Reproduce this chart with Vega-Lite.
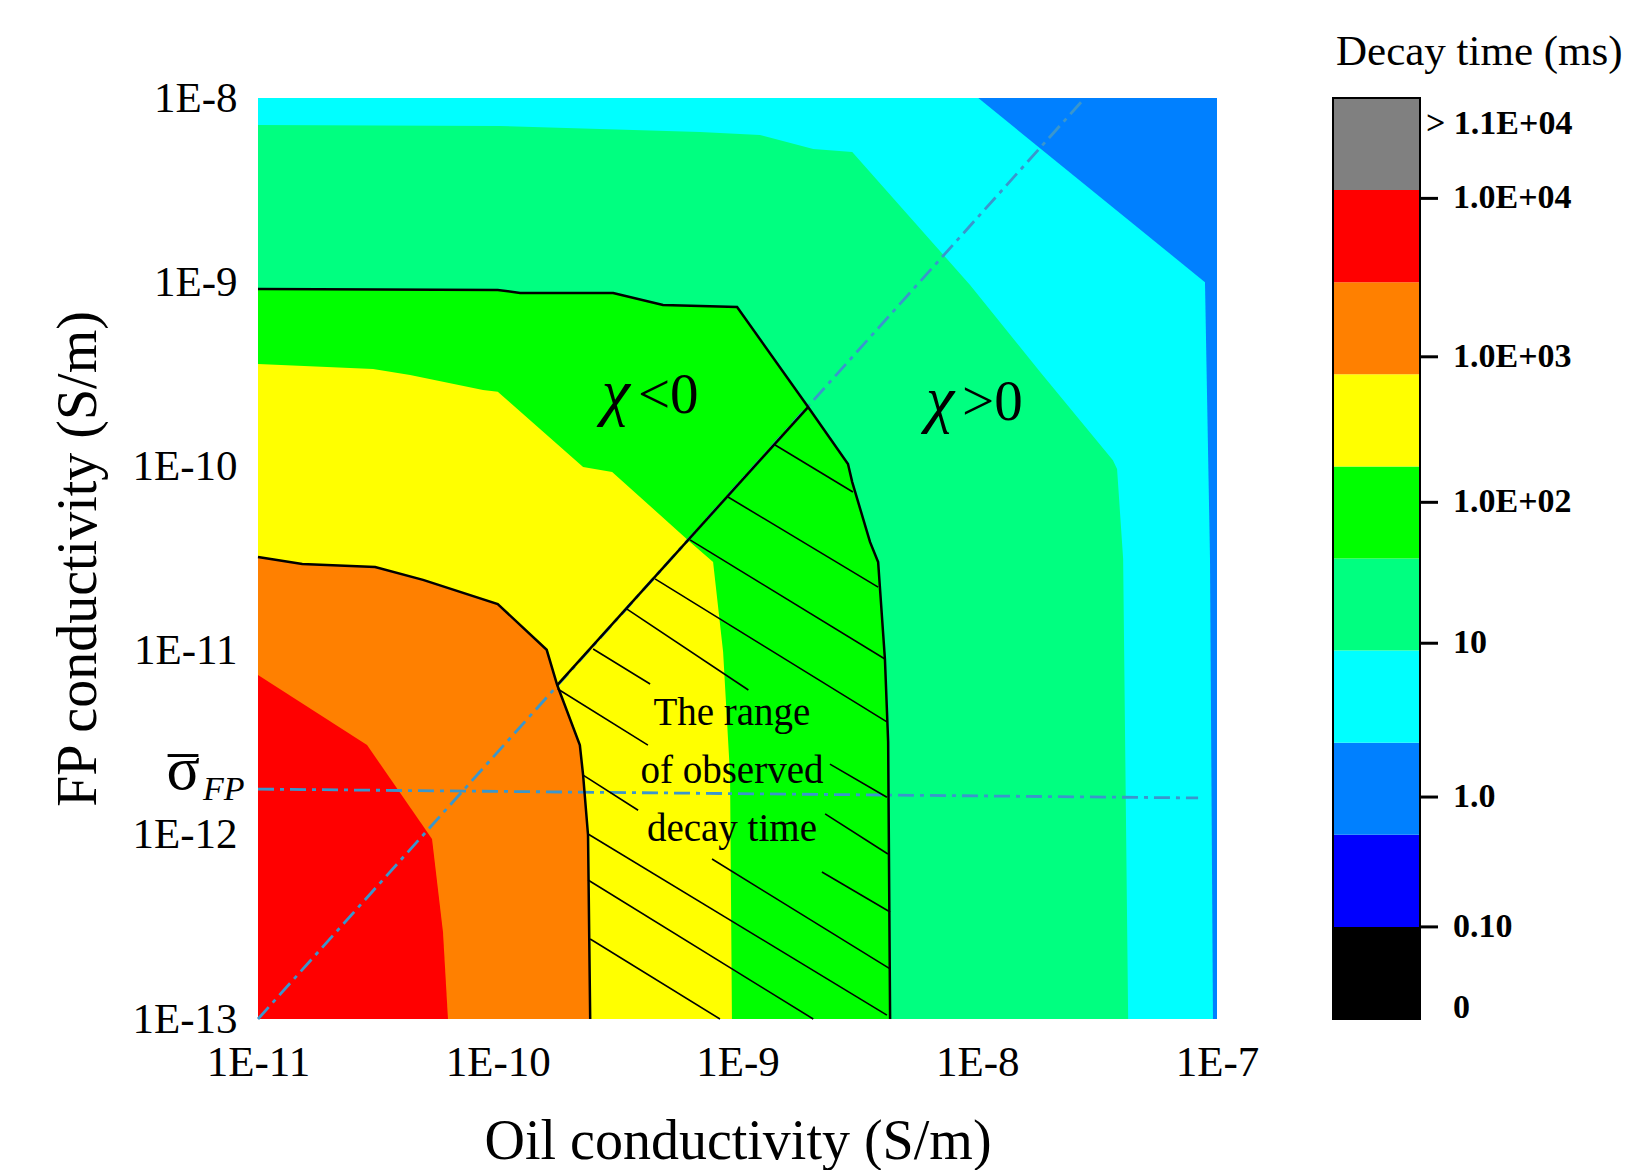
{
  "$schema": "https://vega.github.io/schema/vega-lite/v6.json",
  "background": "white",
  "padding": {"left": 50, "top": 31, "right": 5, "bottom": 5},
  "config": {"font": "Liberation Serif", "view": {"stroke": null}, "text": {"font": "Liberation Serif", "color": "black"}},
  "bounds": "flush",
  "spacing": 116,
  "datasets": {
    "poly": [
      {"level": "L2", "v": 0, "oil": 1e-11, "fp": 1e-13},
      {"level": "L2", "v": 1, "oil": 1e-11, "fp": 1e-8},
      {"level": "L2", "v": 2, "oil": 1e-7, "fp": 1e-8},
      {"level": "L2", "v": 3, "oil": 1e-7, "fp": 1e-13},

      {"level": "L3", "v": 0, "oil": 1e-11, "fp": 1e-13},
      {"level": "L3", "v": 1, "oil": 1e-11, "fp": 1e-8},
      {"level": "L3", "v": 2, "oil": 1.01e-8, "fp": 1e-8},
      {"level": "L3", "v": 3, "oil": 8.91e-8, "fp": 1.0e-9},
      {"level": "L3", "v": 4, "oil": 9.35e-8, "fp": 3.14e-11},
      {"level": "L3", "v": 5, "oil": 9.62e-8, "fp": 1e-13},

      {"level": "L4", "v": 0, "oil": 1e-11, "fp": 1e-13},
      {"level": "L4", "v": 1, "oil": 1e-11, "fp": 7.13e-9},
      {"level": "L4", "v": 2, "oil": 1.02e-10, "fp": 7.05e-9},
      {"level": "L4", "v": 3, "oil": 6.98e-10, "fp": 6.53e-9},
      {"level": "L4", "v": 4, "oil": 1.24e-9, "fp": 6.30e-9},
      {"level": "L4", "v": 5, "oil": 2.07e-9, "fp": 5.28e-9},
      {"level": "L4", "v": 6, "oil": 3.01e-9, "fp": 5.09e-9},
      {"level": "L4", "v": 7, "oil": 9.33e-9, "fp": 9.66e-10},
      {"level": "L4", "v": 8, "oil": 1.83e-8, "fp": 3.25e-10},
      {"level": "L4", "v": 9, "oil": 3.68e-8, "fp": 1.08e-10},
      {"level": "L4", "v": 10, "oil": 3.83e-8, "fp": 9.68e-11},
      {"level": "L4", "v": 11, "oil": 4.06e-8, "fp": 3.14e-11},
      {"level": "L4", "v": 12, "oil": 4.26e-8, "fp": 1e-13},

      {"level": "L5", "v": 0, "oil": 1e-11, "fp": 1e-13},
      {"level": "L5", "v": 1, "oil": 1e-11, "fp": 9.18e-10},
      {"level": "L5", "v": 2, "oil": 1.0e-10, "fp": 9.08e-10},
      {"level": "L5", "v": 3, "oil": 1.24e-10, "fp": 8.74e-10},
      {"level": "L5", "v": 4, "oil": 3.03e-10, "fp": 8.74e-10},
      {"level": "L5", "v": 5, "oil": 4.89e-10, "fp": 7.52e-10},
      {"level": "L5", "v": 6, "oil": 9.96e-10, "fp": 7.33e-10},
      {"level": "L5", "v": 7, "oil": 1.97e-9, "fp": 2.10e-10},
      {"level": "L5", "v": 8, "oil": 2.89e-9, "fp": 1.03e-10},
      {"level": "L5", "v": 9, "oil": 3.01e-9, "fp": 8.22e-11},
      {"level": "L5", "v": 10, "oil": 3.57e-9, "fp": 3.89e-11},
      {"level": "L5", "v": 11, "oil": 3.86e-9, "fp": 3.03e-11},
      {"level": "L5", "v": 12, "oil": 4.12e-9, "fp": 9.0e-12},
      {"level": "L5", "v": 13, "oil": 4.25e-9, "fp": 3.19e-12},
      {"level": "L5", "v": 14, "oil": 4.33e-9, "fp": 1e-13},

      {"level": "L6", "v": 0, "oil": 1e-11, "fp": 1e-13},
      {"level": "L6", "v": 1, "oil": 1e-11, "fp": 3.60e-10},
      {"level": "L6", "v": 2, "oil": 3.02e-11, "fp": 3.38e-10},
      {"level": "L6", "v": 3, "oil": 4.31e-11, "fp": 3.13e-10},
      {"level": "L6", "v": 4, "oil": 8.68e-11, "fp": 2.60e-10},
      {"level": "L6", "v": 5, "oil": 1.0e-10, "fp": 2.54e-10},
      {"level": "L6", "v": 6, "oil": 2.27e-10, "fp": 9.93e-11},
      {"level": "L6", "v": 7, "oil": 3.00e-10, "fp": 9.33e-11},
      {"level": "L6", "v": 8, "oil": 6.34e-10, "fp": 3.89e-11},
      {"level": "L6", "v": 9, "oil": 7.91e-10, "fp": 3.03e-11},
      {"level": "L6", "v": 10, "oil": 8.71e-10, "fp": 9.82e-12},
      {"level": "L6", "v": 11, "oil": 9.31e-10, "fp": 2.11e-12},
      {"level": "L6", "v": 12, "oil": 9.48e-10, "fp": 1e-13},

      {"level": "L7", "v": 0, "oil": 1e-11, "fp": 1e-13},
      {"level": "L7", "v": 1, "oil": 1e-11, "fp": 3.22e-11},
      {"level": "L7", "v": 2, "oil": 1.53e-11, "fp": 2.95e-11},
      {"level": "L7", "v": 3, "oil": 3.08e-11, "fp": 2.84e-11},
      {"level": "L7", "v": 4, "oil": 4.88e-11, "fp": 2.42e-11},
      {"level": "L7", "v": 5, "oil": 1.0e-10, "fp": 1.79e-11},
      {"level": "L7", "v": 6, "oil": 1.60e-10, "fp": 1.01e-11},
      {"level": "L7", "v": 7, "oil": 1.77e-10, "fp": 6.50e-12},
      {"level": "L7", "v": 8, "oil": 2.20e-10, "fp": 3.07e-12},
      {"level": "L7", "v": 9, "oil": 2.27e-10, "fp": 2.11e-12},
      {"level": "L7", "v": 10, "oil": 2.38e-10, "fp": 9.98e-13},
      {"level": "L7", "v": 11, "oil": 2.43e-10, "fp": 1e-13},

      {"level": "L8", "v": 0, "oil": 1e-11, "fp": 1e-13},
      {"level": "L8", "v": 1, "oil": 1e-11, "fp": 7.37e-12},
      {"level": "L8", "v": 2, "oil": 2.85e-11, "fp": 3.07e-12},
      {"level": "L8", "v": 3, "oil": 5.07e-11, "fp": 1.04e-12},
      {"level": "L8", "v": 4, "oil": 5.32e-11, "fp": 9.49e-13},
      {"level": "L8", "v": 5, "oil": 5.91e-11, "fp": 2.97e-13},
      {"level": "L8", "v": 6, "oil": 6.20e-11, "fp": 1e-13}
    ],
    "segments": [
      {"kind": "hatch", "oil": 1.43e-9, "fp": 1.31e-10, "oil2": 3.03e-9, "fp2": 7.26e-11},
      {"kind": "hatch", "oil": 9.13e-10, "fp": 6.82e-11, "oil2": 3.86e-9, "fp2": 2.21e-11},
      {"kind": "hatch", "oil": 6.34e-10, "fp": 3.99e-11, "oil2": 4.12e-9, "fp2": 9.00e-12},
      {"kind": "hatch", "oil": 4.53e-10, "fp": 2.45e-11, "oil2": 4.20e-9, "fp2": 4.10e-12},
      {"kind": "hatch", "oil": 3.46e-10, "fp": 1.68e-11, "oil2": 1.11e-9, "fp2": 6.11e-12},
      {"kind": "hatch", "oil": 2.50e-10, "fp": 1.02e-11, "oil2": 4.32e-10, "fp2": 6.59e-12},
      {"kind": "hatch", "oil": 1.78e-10, "fp": 6.19e-12, "oil2": 4.23e-10, "fp2": 3.07e-12},
      {"kind": "hatch", "oil": 2.27e-10, "fp": 2.11e-12, "oil2": 3.85e-10, "fp2": 1.36e-12},
      {"kind": "hatch", "oil": 2.43e-9, "fp": 2.42e-12, "oil2": 4.20e-9, "fp2": 1.60e-12},
      {"kind": "hatch", "oil": 2.32e-9, "fp": 1.30e-12, "oil2": 4.24e-9, "fp2": 7.87e-13},
      {"kind": "hatch", "oil": 2.25e-9, "fp": 6.28e-13, "oil2": 4.33e-9, "fp2": 3.81e-13},
      {"kind": "hatch", "oil": 7.83e-10, "fp": 7.39e-13, "oil2": 4.33e-9, "fp2": 1.87e-13},
      {"kind": "hatch", "oil": 2.38e-10, "fp": 1.01e-12, "oil2": 4.20e-9, "fp2": 1.05e-13},
      {"kind": "hatch", "oil": 2.38e-10, "fp": 5.68e-13, "oil2": 2.07e-9, "fp2": 1e-13},
      {"kind": "hatch", "oil": 2.43e-10, "fp": 2.72e-13, "oil2": 8.45e-10, "fp2": 1e-13},
      {"kind": "divider", "oil": 1.77e-10, "fp": 6.50e-12, "oil2": 1.97e-9, "fp2": 2.10e-10},
      {"kind": "guide", "oil": 1e-11, "fp": 1e-13, "oil2": 2.81e-8, "fp2": 1e-8},
      {"kind": "guide", "oil": 1e-11, "fp": 1.77e-12, "oil2": 8.34e-8, "fp2": 1.585e-12}
    ],
    "notes": [
      {"oil": 3.70e-10, "fp": 1.74e-10, "sym": "χ", "rel": "<0"},
      {"oil": 8.32e-9, "fp": 1.60e-10, "sym": "χ", "rel": ">0"}
    ],
    "sigma": [
      {"oil": 1e-11, "fp": 1.77e-12, "sym": "σ", "bar": "–", "sub": "FP"}
    ],
    "range": [
      {"oil": 9.48e-10, "fp": 3.94e-12, "note": "The range\nof observed\ndecay time"}
    ],
    "xticks": [{"oil": 1e-10}, {"oil": 1e-9}, {"oil": 1e-8}],
    "yticks": [{"fp": 1e-12}, {"fp": 1e-11}, {"fp": 1e-10}, {"fp": 1e-9}],
    "scale": [
      {"level": "L0", "lo": 0, "hi": 1},
      {"level": "L1", "lo": 1, "hi": 2},
      {"level": "L2", "lo": 2, "hi": 3},
      {"level": "L3", "lo": 3, "hi": 4},
      {"level": "L4", "lo": 4, "hi": 5},
      {"level": "L5", "lo": 5, "hi": 6},
      {"level": "L6", "lo": 6, "hi": 7},
      {"level": "L7", "lo": 7, "hi": 8},
      {"level": "L8", "lo": 8, "hi": 9},
      {"level": "L9", "lo": 9, "hi": 10}
    ],
    "scaleLabels": [
      {"pos": 0.12, "label": "0", "tick": false, "lead": false},
      {"pos": 1.0, "label": "0.10", "tick": true, "lead": false},
      {"pos": 2.41, "label": "1.0", "tick": true, "lead": false},
      {"pos": 4.08, "label": "10", "tick": true, "lead": false},
      {"pos": 5.61, "label": "1.0E+02", "tick": true, "lead": false},
      {"pos": 7.19, "label": "1.0E+03", "tick": true, "lead": false},
      {"pos": 8.91, "label": "1.0E+04", "tick": true, "lead": false},
      {"pos": 9.72, "label": "> 1.1E+04", "tick": false, "lead": true}
    ]
  },
  "hconcat": [
    {
      "width": 959,
      "height": 921,
      "encoding": {
        "x": {
          "field": "oil", "type": "quantitative", "title": "Oil conductivity (S/m)",
          "scale": {"type": "log", "domain": [1e-11, 1e-7], "nice": false},
          "axis": {
            "values": [1e-11, 1e-10, 1e-9, 1e-8, 1e-7],
            "labelExpr": "'1E' + round(log(datum.value)/LN10)",
            "ticks": false, "tickSize": 0, "domain": false, "grid": false,
            "labelFont": "Liberation Serif", "labelFontSize": 43, "labelColor": "black",
            "labelPadding": 22, "labelFlush": false, "labelOverlap": false,
            "titleFont": "Liberation Serif", "titleFontSize": 56, "titleFontWeight": "normal",
            "titleColor": "black", "titlePadding": 30
          }
        },
        "y": {
          "field": "fp", "type": "quantitative", "title": "FP conductivity (S/m)",
          "scale": {"type": "log", "domain": [1e-13, 1e-8], "nice": false},
          "axis": {
            "values": [1e-13, 1e-12, 1e-11, 1e-10, 1e-9, 1e-8],
            "labelExpr": "'1E' + round(log(datum.value)/LN10)",
            "ticks": false, "tickSize": 0, "domain": false, "grid": false,
            "labelFont": "Liberation Serif", "labelFontSize": 43, "labelColor": "black",
            "labelPadding": 21, "labelFlush": false, "labelOverlap": false,
            "titleFont": "Liberation Serif", "titleFontSize": 56, "titleFontWeight": "normal",
            "titleColor": "black", "titlePadding": 24
          }
        }
      },
      "layer": [
        {"data": {"name": "poly"}, "transform": [{"filter": "datum.level === 'L2'"}],
         "mark": {"type": "line", "fill": "#0080ff", "strokeWidth": 0},
         "encoding": {"order": {"field": "v", "type": "quantitative"}}},
        {"data": {"name": "poly"}, "transform": [{"filter": "datum.level === 'L3'"}],
         "mark": {"type": "line", "fill": "#00ffff", "strokeWidth": 0},
         "encoding": {"order": {"field": "v", "type": "quantitative"}}},
        {"data": {"name": "poly"}, "transform": [{"filter": "datum.level === 'L4'"}],
         "mark": {"type": "line", "fill": "#00ff80", "strokeWidth": 0},
         "encoding": {"order": {"field": "v", "type": "quantitative"}}},
        {"data": {"name": "poly"}, "transform": [{"filter": "datum.level === 'L5'"}],
         "mark": {"type": "line", "fill": "#00ff00", "strokeWidth": 0},
         "encoding": {"order": {"field": "v", "type": "quantitative"}}},
        {"data": {"name": "poly"}, "transform": [{"filter": "datum.level === 'L6'"}],
         "mark": {"type": "line", "fill": "#ffff00", "strokeWidth": 0},
         "encoding": {"order": {"field": "v", "type": "quantitative"}}},
        {"data": {"name": "poly"}, "transform": [{"filter": "datum.level === 'L7'"}],
         "mark": {"type": "line", "fill": "#ff8000", "strokeWidth": 0},
         "encoding": {"order": {"field": "v", "type": "quantitative"}}},
        {"data": {"name": "poly"}, "transform": [{"filter": "datum.level === 'L8'"}],
         "mark": {"type": "line", "fill": "#ff0000", "strokeWidth": 0},
         "encoding": {"order": {"field": "v", "type": "quantitative"}}},
        {"data": {"name": "segments"}, "transform": [{"filter": "datum.kind === 'guide'"}],
         "mark": {"type": "rule", "color": "#3a96cc", "strokeWidth": 2.8, "strokeDash": [16, 6, 4, 6]},
         "encoding": {"x2": {"field": "oil2"}, "y2": {"field": "fp2"}}},
        {"data": {"name": "poly"}, "transform": [{"filter": "(datum.level === 'L5' || datum.level === 'L7') && datum.v > 0"}],
         "mark": {"type": "line", "color": "black", "strokeWidth": 2.5},
         "encoding": {"order": {"field": "v", "type": "quantitative"}, "detail": {"field": "level", "type": "nominal"}}},
        {"data": {"name": "segments"}, "transform": [{"filter": "datum.kind === 'hatch'"}],
         "mark": {"type": "rule", "color": "black", "strokeWidth": 1.6},
         "encoding": {"x2": {"field": "oil2"}, "y2": {"field": "fp2"}}},
        {"data": {"name": "segments"}, "transform": [{"filter": "datum.kind === 'divider'"}],
         "mark": {"type": "rule", "color": "black", "strokeWidth": 2.5},
         "encoding": {"x2": {"field": "oil2"}, "y2": {"field": "fp2"}}},
        {"data": {"name": "xticks"},
         "mark": {"type": "rule", "color": "black", "strokeWidth": 3, "y2Offset": -17},
         "encoding": {"y": {"datum": 1e-13, "type": "quantitative"}, "y2": {"datum": 1e-13}}},
        {"data": {"name": "yticks"},
         "mark": {"type": "rule", "color": "black", "strokeWidth": 3, "x2Offset": 18},
         "encoding": {"x": {"datum": 1e-11, "type": "quantitative"}, "x2": {"datum": 1e-11}}},
        {"data": {"values": [{}]},
         "mark": {"type": "rect", "filled": false, "color": "black", "strokeWidth": 3},
         "encoding": {"x": {"datum": 1e-11, "type": "quantitative"}, "x2": {"datum": 1e-7}, "y": {"datum": 1e-13, "type": "quantitative"}, "y2": {"datum": 1e-8}}},
        {"data": {"name": "notes"},
         "mark": {"type": "text", "align": "right", "baseline": "alphabetic", "dx": -4, "dy": -9, "fontSize": 64, "fontStyle": "italic"},
         "encoding": {"text": {"field": "sym"}}},
        {"data": {"name": "notes"},
         "mark": {"type": "text", "align": "left", "baseline": "alphabetic", "dx": 4, "dy": -9, "fontSize": 57},
         "encoding": {"text": {"field": "rel"}}},
        {"data": {"name": "range"},
         "mark": {"type": "text", "align": "center", "baseline": "alphabetic", "fontSize": 39, "lineBreak": "\n", "lineHeight": 58},
         "encoding": {"text": {"field": "note"}}},
        {"data": {"name": "sigma"},
         "mark": {"type": "text", "align": "right", "baseline": "alphabetic", "dx": -58, "dy": 0, "fontSize": 62},
         "encoding": {"text": {"field": "sym"}}},
        {"data": {"name": "sigma"},
         "mark": {"type": "text", "align": "center", "baseline": "alphabetic", "dx": -75, "dy": -20, "fontSize": 60},
         "encoding": {"text": {"field": "bar"}}},
        {"data": {"name": "sigma"},
         "mark": {"type": "text", "align": "left", "baseline": "alphabetic", "dx": -55, "dy": 11, "fontSize": 34, "fontStyle": "italic"},
         "encoding": {"text": {"field": "sub"}}}
      ]
    },
    {
      "width": 87,
      "height": 921,
      "title": {"text": "Decay time (ms)", "anchor": "start", "frame": "group", "font": "Liberation Serif", "fontSize": 43, "fontWeight": "normal", "color": "black", "baseline": "alphabetic", "offset": -11, "dx": 3},
      "layer": [
        {"data": {"name": "scale"},
         "mark": {"type": "rect"},
         "encoding": {
           "x": {"datum": 0, "type": "quantitative", "scale": {"domain": [0, 1], "nice": false, "zero": false}, "axis": null},
           "x2": {"datum": 1},
           "y": {"field": "lo", "type": "quantitative", "scale": {"domain": [0, 10], "nice": false}, "axis": null},
           "y2": {"field": "hi"},
           "color": {"field": "level", "type": "nominal", "legend": null,
             "scale": {"domain": ["L0", "L1", "L2", "L3", "L4", "L5", "L6", "L7", "L8", "L9"],
                       "range": ["#000000", "#0000ff", "#0080ff", "#00ffff", "#00ff80", "#00ff00", "#ffff00", "#ff8000", "#ff0000", "#808080"]}}
         }},
        {"data": {"values": [{}]},
         "mark": {"type": "rect", "filled": false, "color": "black", "strokeWidth": 2},
         "encoding": {"x": {"datum": 0, "type": "quantitative"}, "x2": {"datum": 1}, "y": {"datum": 0, "type": "quantitative"}, "y2": {"datum": 10}}},
        {"data": {"name": "scaleLabels"}, "transform": [{"filter": "datum.tick"}],
         "mark": {"type": "rule", "color": "black", "strokeWidth": 3, "x2Offset": 18},
         "encoding": {"x": {"datum": 1, "type": "quantitative"}, "x2": {"datum": 1}, "y": {"field": "pos", "type": "quantitative"}}},
        {"data": {"name": "scaleLabels"}, "transform": [{"filter": "!datum.lead"}],
         "mark": {"type": "text", "align": "left", "baseline": "middle", "dx": 33, "fontSize": 34, "fontWeight": "bold"},
         "encoding": {"x": {"datum": 1, "type": "quantitative"}, "y": {"field": "pos", "type": "quantitative"}, "text": {"field": "label"}}},
        {"data": {"name": "scaleLabels"}, "transform": [{"filter": "datum.lead"}],
         "mark": {"type": "text", "align": "left", "baseline": "middle", "dx": 6, "fontSize": 34, "fontWeight": "bold"},
         "encoding": {"x": {"datum": 1, "type": "quantitative"}, "y": {"field": "pos", "type": "quantitative"}, "text": {"field": "label"}}}
      ]
    }
  ]
}
